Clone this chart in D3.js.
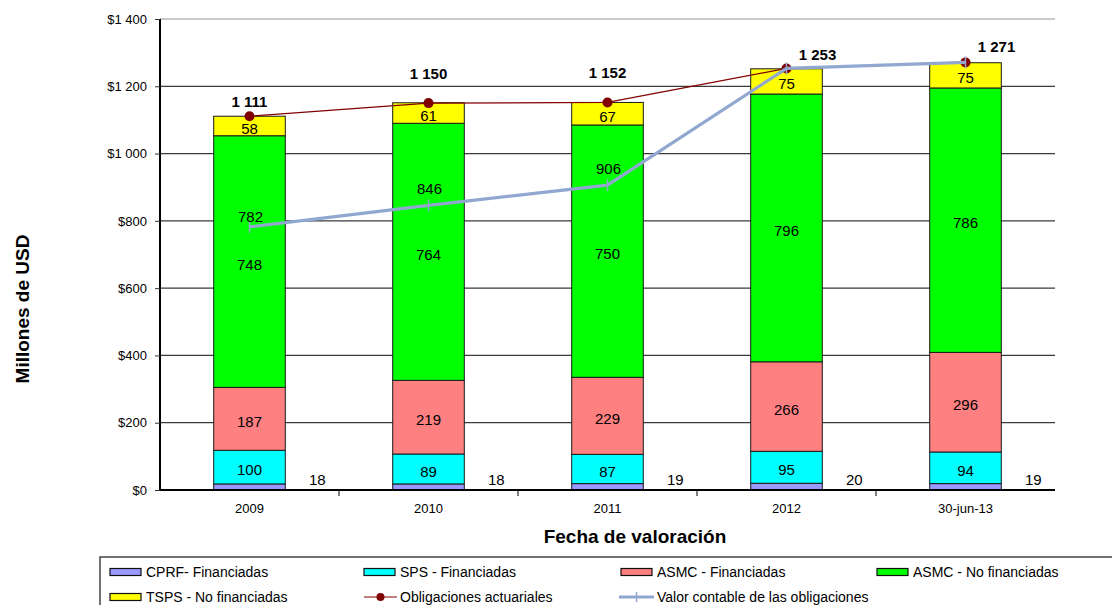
<!doctype html>
<meta charset="utf-8">
<script src="https://d3js.org/d3.v7.min.js"></script>
<style>
  body { margin: 0; background: #fff; }
  text { font-family: "Liberation Sans", Arial, sans-serif; fill: #000; }
</style>
<body>
<svg width="1112" height="605"></svg>
<script>
// --- data -----------------------------------------------------------
var years = ["2009", "2010", "2011", "2012", "30-jun-13"];
var cprf   = [18, 18, 19, 20, 19];      // CPRF- Financiadas
var sps    = [100, 89, 87, 95, 94];     // SPS - Financiadas
var asmcF  = [187, 219, 229, 266, 296]; // ASMC - Financiadas
var asmcNF = [748, 764, 750, 796, 786]; // ASMC - No financiadas
var tsps   = [58, 61, 67, 75, 75];      // TSPS - No financiadas
var obligaciones = [1111, 1150, 1152, 1253, 1271];
var valorContable = [782, 846, 906, 1253, 1271];
var yTicks = [0, 200, 400, 600, 800, 1000, 1200, 1400];

var seriesNames = ["CPRF- Financiadas", "SPS - Financiadas", "ASMC - Financiadas",
  "ASMC - No financiadas", "TSPS - No financiadas"];
var seriesColors = ["#9999ff", "#00ffff", "#ff8080", "#00ff00", "#ffff00"];

// label nudges (layout only)
var obligNudge = [[0, -9], [0, -24], [0, -24], [31, -8], [31, -10]];
var valorNudge = [-5, -11, -11, -10, -10];

var svg = d3.select("svg");
var plotL = 160, plotR = 1055, plotT = 19, plotB = 490;

var x = d3.scaleBand().domain(years).range([plotL, plotR])
  .paddingInner(0.6).paddingOuter(0.3);
var y = d3.scaleLinear().domain([0, 1400]).range([plotB, plotT]);

// stacked table
var table = years.map(function (yr, i) {
  return { year: yr, s0: cprf[i], s1: sps[i], s2: asmcF[i], s3: asmcNF[i], s4: tsps[i] };
});
var stack = d3.stack().keys(["s0", "s1", "s2", "s3", "s4"])(table);

function spaced(d) { return d3.format(",")(d).replace(",", " "); }

// gridlines
svg.append("g").selectAll("line")
  .data(yTicks.filter(function (d) { return d > 0; }))
  .enter().append("line")
  .attr("x1", plotL).attr("x2", plotR)
  .attr("y1", function (d) { return y(d); })
  .attr("y2", function (d) { return y(d); })
  .attr("stroke", function (d) { return d === 1400 ? "#b8b8b8" : "#3a3a3a"; })
  .attr("stroke-width", 1.3);

// bars
var layers = svg.append("g").selectAll("g")
  .data(stack).enter().append("g")
  .attr("fill", function (d, i) { return seriesColors[i]; });

layers.selectAll("rect")
  .data(function (d) { return d; })
  .enter().append("rect")
  .attr("x", function (d) { return x(d.data.year); })
  .attr("width", x.bandwidth())
  .attr("y", function (d) { return y(d[1]); })
  .attr("height", function (d) { return y(d[0]) - y(d[1]); })
  .attr("stroke", "#1a1a1a")
  .attr("stroke-width", 1);

// segment labels
stack.forEach(function (layer, li) {
  svg.append("g").selectAll("text")
    .data(layer).enter().append("text")
    .attr("text-anchor", "middle")
    .attr("font-size", "15px")
    .attr("x", function (d) {
      return li === 0 ? x(d.data.year) + x.bandwidth() + 32 : x(d.data.year) + x.bandwidth() / 2;
    })
    .attr("y", function (d) {
      var mid = y((d[0] + d[1]) / 2);
      return li === 0 ? mid - 2 : mid + 8;
    })
    .text(function (d) { return d[1] - d[0]; });
});

// axes
var yAxis = svg.append("g")
  .attr("transform", "translate(" + plotL + ",0)")
  .call(d3.axisLeft(y).tickValues(yTicks).tickSize(5).tickPadding(8)
    .tickFormat(function (d) { return "$" + spaced(d); }));
yAxis.select(".domain").attr("stroke", "#000").attr("stroke-width", 2)
  .attr("d", "M0," + plotT + "V" + plotB);
yAxis.selectAll(".tick line").attr("stroke", "#333");
yAxis.selectAll(".tick text").attr("font-size", "13px").attr("fill", "#222")
  .style("font-family", "'Liberation Sans', Arial, sans-serif");

var xAxis = svg.append("g")
  .attr("transform", "translate(0," + plotB + ")")
  .call(d3.axisBottom(x).tickSize(0).tickPadding(14));
xAxis.select(".domain").attr("stroke", "#000").attr("stroke-width", 2)
  .attr("d", "M" + plotL + ",0H" + plotR);
xAxis.selectAll(".tick text").attr("font-size", "13px").attr("fill", "#222")
  .style("font-family", "'Liberation Sans', Arial, sans-serif");
// boundary ticks
svg.append("g").selectAll("line")
  .data(years.slice(1)).enter().append("line")
  .attr("x1", function (d) { return x(d) - x.step() * 0.3; })
  .attr("x2", function (d) { return x(d) - x.step() * 0.3; })
  .attr("y1", plotB).attr("y2", plotB + 6)
  .attr("stroke", "#000").attr("stroke-width", 1);

function cx(i) { return x(years[i]) + x.bandwidth() / 2; }

// obligaciones actuariales line
var lineGen = d3.line().x(function (d, i) { return cx(i); }).y(function (d) { return y(d); });
svg.append("path").datum(obligaciones)
  .attr("d", lineGen).attr("fill", "none")
  .attr("stroke", "#800000").attr("stroke-width", 1.2);
svg.append("g").selectAll("circle")
  .data(obligaciones).enter().append("circle")
  .attr("cx", function (d, i) { return cx(i); })
  .attr("cy", function (d) { return y(d); })
  .attr("r", 5).attr("fill", "#800000");

// valor contable line
svg.append("path").datum(valorContable)
  .attr("d", lineGen).attr("fill", "none")
  .attr("stroke", "#90a8d0").attr("stroke-width", 3.2);
svg.append("g").selectAll("line")
  .data(valorContable).enter().append("line")
  .attr("x1", function (d, i) { return cx(i); })
  .attr("x2", function (d, i) { return cx(i); })
  .attr("y1", function (d) { return y(d) - 6; })
  .attr("y2", function (d) { return y(d) + 6; })
  .attr("stroke", "#90a8d0").attr("stroke-width", 1.5);

// valor labels (only where they differ from obligaciones)
svg.append("g").selectAll("text")
  .data(valorContable.map(function (v, i) { return { v: v, i: i }; })
    .filter(function (d) { return d.v !== obligaciones[d.i]; }))
  .enter().append("text")
  .attr("text-anchor", "middle").attr("font-size", "15px")
  .attr("x", function (d) { return cx(d.i) + 1; })
  .attr("y", function (d) { return y(d.v) + valorNudge[d.i]; })
  .text(function (d) { return d.v; });

// obligaciones labels
svg.append("g").selectAll("text")
  .data(obligaciones).enter().append("text")
  .attr("text-anchor", "middle").attr("font-size", "15px").attr("font-weight", "bold")
  .attr("x", function (d, i) { return cx(i) + obligNudge[i][0]; })
  .attr("y", function (d, i) { return y(d) + obligNudge[i][1]; })
  .text(function (d) { return spaced(d); });

// axis titles
svg.append("text")
  .attr("transform", "translate(29,309) rotate(-90)")
  .attr("text-anchor", "middle").attr("font-size", "19px").attr("font-weight", "bold")
  .text("Millones de USD");
svg.append("text")
  .attr("x", 635).attr("y", 543)
  .attr("text-anchor", "middle").attr("font-size", "19px").attr("font-weight", "bold")
  .text("Fecha de valoración");

// legend
var legend = svg.append("g");
legend.append("rect")
  .attr("x", 100).attr("y", 557).attr("width", 1030).attr("height", 60)
  .attr("fill", "#fff").attr("stroke", "#444").attr("stroke-width", 1.5);

var legendPos = [[110, 572], [364, 572], [621, 572], [877, 572], [110, 597]];
seriesNames.forEach(function (name, i) {
  var p = legendPos[i];
  legend.append("rect")
    .attr("x", p[0]).attr("y", p[1] - 3.5).attr("width", 31).attr("height", 7)
    .attr("fill", seriesColors[i]).attr("stroke", "#111").attr("stroke-width", 1.2);
  legend.append("text")
    .attr("x", p[0] + 36).attr("y", p[1] + 5).attr("font-size", "14px")
    .text(name);
});
// line entries
legend.append("line").attr("x1", 364).attr("x2", 397).attr("y1", 597).attr("y2", 597)
  .attr("stroke", "#800000").attr("stroke-width", 1.2);
legend.append("circle").attr("cx", 380.5).attr("cy", 597).attr("r", 4).attr("fill", "#800000");
legend.append("text").attr("x", 400).attr("y", 602).attr("font-size", "14px")
  .text("Obligaciones actuariales");

legend.append("line").attr("x1", 619).attr("x2", 654).attr("y1", 597).attr("y2", 597)
  .attr("stroke", "#90a8d0").attr("stroke-width", 3.2);
legend.append("line").attr("x1", 636.5).attr("x2", 636.5).attr("y1", 592).attr("y2", 602)
  .attr("stroke", "#90a8d0").attr("stroke-width", 1.5);
legend.append("text").attr("x", 657).attr("y", 602).attr("font-size", "14px")
  .text("Valor contable de las obligaciones");
</script>
</body>
